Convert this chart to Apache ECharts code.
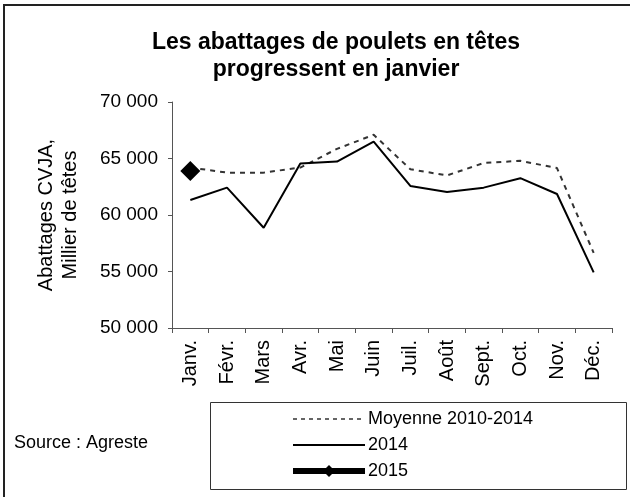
<!DOCTYPE html>
<html>
<head>
<meta charset="utf-8">
<script src="https://cdn.jsdelivr.net/npm/echarts@6/dist/echarts.min.js"></script>
<style>
  html, body { margin: 0; padding: 0; background: #fff; }
  #chart { width: 630px; height: 497px; }
</style>
</head>
<body>
<div id="chart"></div>
<script>
var months = ['Janv.', 'Févr.', 'Mars', 'Avr.', 'Mai', 'Juin', 'Juil.', 'Août', 'Sept.', 'Oct.', 'Nov.', 'Déc.'];
var moyenne = [64200, 63750, 63750, 64200, 65850, 67100, 64050, 63500, 64600, 64800, 64150, 56650];
var an2014 = [61330, 62420, 58870, 64550, 64730, 66500, 62570, 62040, 62420, 63260, 61860, 54920];
var an2015 = [63900, null, null, null, null, null, null, null, null, null, null, null];
var yTicks = { min: 50000, max: 70000, interval: 5000 };

var font = "'Liberation Sans', Arial, sans-serif";

var myChart = echarts.init(document.getElementById('chart'));

//milliers séparés par un espace
function fmt(v) {
    return String(v).replace(/\B(?=(\d{3})+(?!\d))/g, ' ');
}

var option = {
    backgroundColor: '#fff',
    animation: false,
    title: {
        text: 'Les abattages de poulets en têtes\nprogressent en janvier',
        left: 331,
        top: 24,
        textAlign: 'center',
        textStyle: {
            fontFamily: font,
            fontSize: 23,
            fontWeight: 'bold',
            lineHeight: 27,
            color: '#000'
        }
    },
    graphic: [
        {
            type: 'rect',
            shape: { x: 4, y: 5, width: 700, height: 600 },
            style: { fill: null, stroke: '#222', lineWidth: 2 },
            silent: true
        },
        {
            type: 'rect',
            shape: { x: 210.5, y: 402.5, width: 416, height: 87 },
            style: { fill: null, stroke: '#333', lineWidth: 1 },
            silent: true
        },
        {
            type: 'text',
            left: 14,
            top: 434,
            style: { text: 'Source : Agreste', fontFamily: font, fontSize: 18, fill: '#000' }
        }
    ],
    legend: {
        orient: 'vertical',
        left: 290,
        top: 410,
        itemWidth: 72,
        itemHeight: 15,
        itemGap: 8,
        padding: 0,
        textStyle: { fontFamily: font, fontSize: 18, color: '#000', padding: [0, 0, 0, -2] },
        data: [
            { name: 'Moyenne 2010-2014', itemStyle: { opacity: 0 }, lineStyle: { width: 1.5, type: [4, 4] } },
            { name: '2014', itemStyle: { opacity: 0 }, lineStyle: { width: 2 } },
            { name: '2015', lineStyle: { width: 6 } }
        ]
    },
    grid: {
        left: 172,
        right: 18,
        top: 102,
        bottom: 169
    },
    xAxis: {
        type: 'category',
        data: months,
        boundaryGap: true,
        axisLine: { lineStyle: { color: '#555', width: 1 } },
        axisTick: { show: true, length: 5, lineStyle: { color: '#555' } },
        axisLabel: {
            rotate: 90,
            margin: 12,
            interval: 0,
            fontFamily: font,
            fontSize: 20,
            color: '#000'
        },
        splitLine: { show: false }
    },
    yAxis: {
        type: 'value',
        min: yTicks.min,
        max: yTicks.max,
        interval: yTicks.interval,
        name: 'Abattages CVJA,\nMillier de têtes',
        nameLocation: 'middle',
        nameGap: 90,
        nameTextStyle: {
            fontFamily: font,
            fontSize: 20,
            lineHeight: 24,
            color: '#000'
        },
        axisLine: { show: true, lineStyle: { color: '#555', width: 1 } },
        axisTick: { show: true, length: 4, lineStyle: { color: '#555' } },
        axisLabel: {
            margin: 14,
            fontFamily: font,
            fontSize: 19,
            color: '#000',
            formatter: fmt
        },
        splitLine: { show: false }
    },
    series: [
        {
            name: 'Moyenne 2010-2014',
            type: 'line',
            data: moyenne,
            symbol: 'none',
            lineStyle: { color: '#333', width: 2, type: [5, 5] },
            itemStyle: { color: '#333' },
            z: 2
        },
        {
            name: '2014',
            type: 'line',
            data: an2014,
            symbol: 'none',
            lineStyle: { color: '#000', width: 2 },
            itemStyle: { color: '#000' },
            z: 3
        },
        {
            name: '2015',
            type: 'line',
            data: an2015,
            symbol: 'diamond',
            symbolSize: 20,
            showSymbol: true,
            lineStyle: { color: '#000', width: 5 },
            itemStyle: { color: '#000' },
            z: 4
        }
    ]
};

myChart.setOption(option);
</script>
</body>
</html>
